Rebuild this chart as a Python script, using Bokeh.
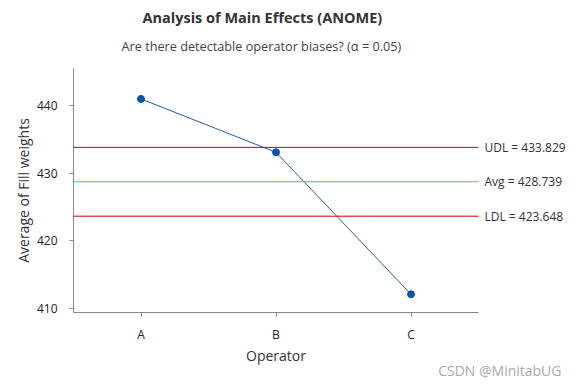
from bokeh.plotting import figure
from bokeh.models import Range1d, FixedTicker, Span, Title, LinearAxis
from bokeh.embed import file_html
from bokeh.resources import INLINE

operators = ["A", "B", "C"]
means = [441.0, 433.1, 412.1]
udl = 433.829
avg = 428.739
ldl = 423.648
limit_labels = ["UDL = 433.829", "Avg = 428.739", "LDL = 423.648"]
limit_values = [udl, avg, ldl]
limit_colors = ["#cc0000", "#33dd33", "#cc0000"]
y_ticks = [410, 420, 430, 440]

FONT = "Open Sans"

p = figure(frame_width=405, frame_height=244, x_range=operators, y_range=Range1d(409.4, 445.5),
           output_backend="svg", toolbar_location=None, title=None,
           min_border_left=73, min_border_right=90, min_border_top=68, min_border_bottom=70)
p.outline_line_color = None
p.xgrid.grid_line_color = None
p.ygrid.grid_line_color = None
p.background_fill_color = "white"

for v, c in zip(limit_values, limit_colors):
    p.add_layout(Span(location=v, dimension="width", line_color=c, line_width=1))

p.line(operators, means, line_color="#1c5fb0", line_width=1)
p.scatter(operators, means, size=7, fill_color="#0a54a6", line_color="#0a54a6")

right = LinearAxis(ticker=FixedTicker(ticks=limit_values),
                   major_label_overrides={v: t for v, t in zip(limit_values, limit_labels)})
right.axis_line_color = None
right.major_tick_line_color = None
right.minor_tick_line_color = None
right.major_tick_out = 0
right.major_tick_in = 0
right.major_label_standoff = 6
right.major_label_text_font = FONT
right.major_label_text_font_size = "12px"
right.major_label_text_color = "#333333"
p.add_layout(right, "right")

p.yaxis[0].ticker = FixedTicker(ticks=y_ticks)
for ax in (p.xaxis[0], p.yaxis[0]):
    ax.axis_line_color = "#888888"
    ax.major_tick_line_color = "#888888"
    ax.minor_tick_line_color = None
    ax.major_tick_out = 4
    ax.major_tick_in = 0
    ax.major_label_text_font = FONT
    ax.major_label_text_font_size = "12px"
    ax.major_label_text_color = "#222222"
    ax.axis_label_text_font = FONT
    ax.axis_label_text_font_size = "14px"
    ax.axis_label_text_font_style = "normal"
    ax.axis_label_text_color = "#333333"

p.xaxis[0].axis_label = "Operator"
p.yaxis[0].axis_label = "Average of Fill weights"
p.xaxis[0].major_label_standoff = 9
p.yaxis[0].major_label_standoff = 12
p.xaxis[0].axis_label_standoff = 0
p.yaxis[0].axis_label_standoff = 1

p.add_layout(Title(text="Are there detectable operator biases? (\u03b1 = 0.05)", align="left",
                   offset=48, text_font=FONT, text_font_size="12.7px", text_font_style="normal",
                   text_color="#444444", standoff=28), "above")
p.add_layout(Title(text="Analysis of Main Effects (ANOME)", align="left", offset=69,
                   text_font=FONT, text_font_size="14.5px", text_font_style="bold",
                   text_color="#333333", standoff=-12), "above")
p.add_layout(Title(text="CSDN @MinitabUG", align="right", offset=-83, text_font=FONT,
                   text_font_size="14px", text_font_style="normal", text_color="#aaaaaa",
                   vertical_align="middle", standoff=-16), "below")

open("out.html", "w").write(file_html(p, INLINE))
